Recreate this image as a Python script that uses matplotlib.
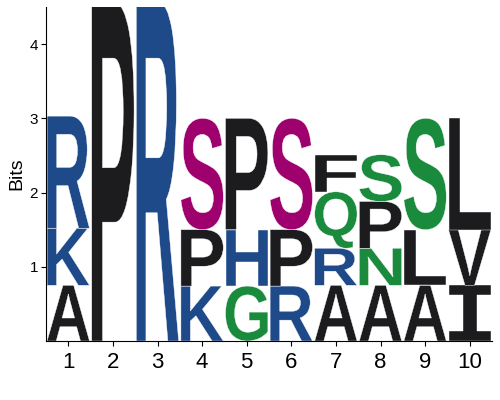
import matplotlib
matplotlib.use("Agg")
import matplotlib.pyplot as plt
from matplotlib.textpath import TextPath
from matplotlib.patches import PathPatch
from matplotlib.font_manager import FontProperties
from matplotlib import transforms

# stacks from bottom to top, one list per position
positions = [1, 2, 3, 4, 5, 6, 7, 8, 9, 10]
letters = [
    ["A", "K", "R"],
    ["P"],
    ["R"],
    ["K", "P", "S"],
    ["G", "H", "P"],
    ["R", "P", "S"],
    ["A", "R", "Q", "F"],
    ["A", "N", "P", "S"],
    ["A", "L", "S"],
    ["I", "V", "L"],
]
heights = [
    [0.75, 0.77, 1.51],
    [4.55],
    [4.55],
    [0.74, 0.76, 1.5],
    [0.74, 0.76, 1.5],
    [0.74, 0.76, 1.5],
    [0.75, 0.5, 0.76, 0.5],
    [0.75, 0.5, 0.63, 0.63],
    [0.75, 0.75, 1.5],
    [0.75, 0.75, 1.5],
]
groups = [
    ["black", "blue", "blue"],
    ["black"],
    ["blue"],
    ["blue", "black", "purple"],
    ["green", "blue", "black"],
    ["blue", "black", "purple"],
    ["black", "blue", "green", "black"],
    ["black", "green", "black", "green"],
    ["black", "black", "green"],
    ["black", "black", "black"],
]
palette = {
    "black": "#1c1b1e",
    "blue": "#1f4a8a",
    "green": "#1a8a3c",
    "purple": "#9e006e",
}

font = FontProperties(family="Liberation Sans", weight="bold")
# the I in the logo has cross bars, take it from a mono font
font_i = FontProperties(family="DejaVu Sans Mono", weight="bold")


def draw_letter(ax, ch, x, y0, h, color, width=0.95):
    prop = font_i if ch == "I" else font
    tp = TextPath((0, 0), ch, size=1, prop=prop)
    ext = tp.get_extents()
    t = (transforms.Affine2D()
         .translate(-ext.x0, -ext.y0)
         .scale(width / ext.width, h / ext.height)
         .translate(x - width / 2, y0))
    path = t.transform_path(tp)
    patch = PathPatch(path, facecolor=color, edgecolor="white", linewidth=0.3, clip_on=True)
    ax.add_patch(patch)


fig = plt.figure(figsize=(5, 4), dpi=100)
ax = fig.add_axes([0.092, 0.1475, 0.892, 0.835])

for pos, col_letters, col_heights, col_groups in zip(positions, letters, heights, groups):
    base = 0.0
    for ch, h, g in zip(col_letters, col_heights, col_groups):
        draw_letter(ax, ch, pos, base, h, palette[g])
        base += h

ax.set_xlim(0.5, 10.5)
ax.set_ylim(0, 4.5)
ax.set_xticks(positions)
ax.set_xticklabels([str(p) for p in positions], fontsize=16, family="Liberation Sans")
ax.set_yticks([1, 2, 3, 4])
ax.set_yticklabels(["1", "2", "3", "4"], fontsize=11, family="Liberation Sans")
ax.set_ylabel("Bits", fontsize=14, family="Liberation Sans", labelpad=3)
ax.spines["top"].set_visible(False)
ax.spines["right"].set_visible(False)
ax.tick_params(axis="both", direction="out", length=3.6, color="black", pad=2)
ax.tick_params(axis="x", pad=4)

fig.savefig("out.png", dpi=100)
